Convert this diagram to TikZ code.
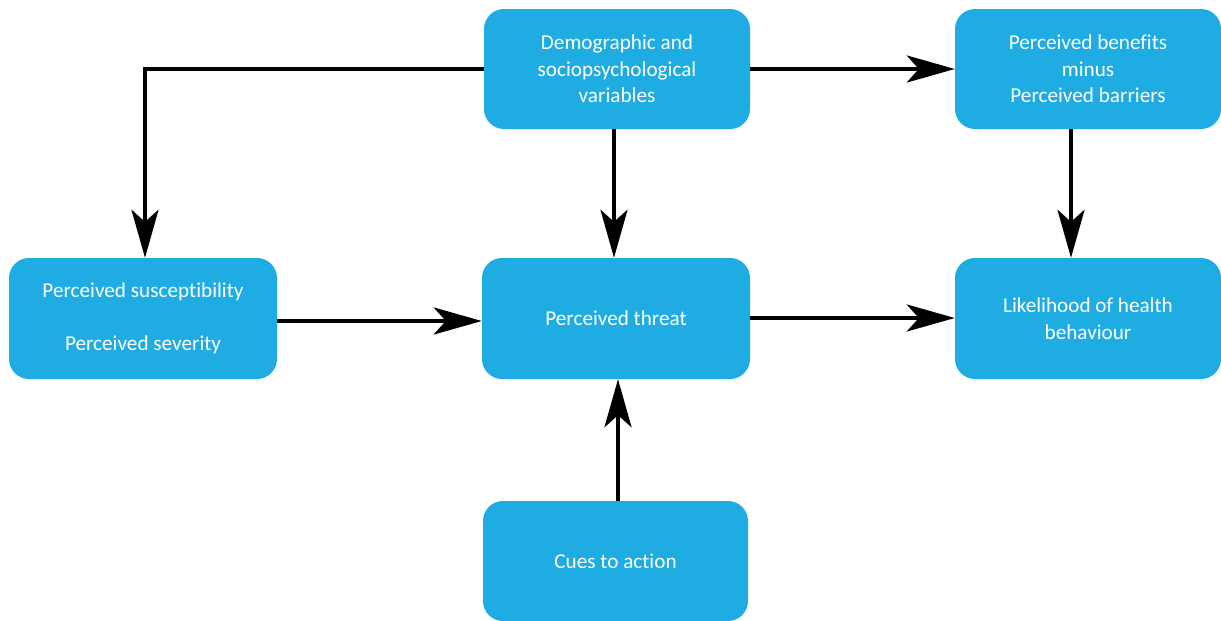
\documentclass[tikz,border=0pt]{standalone}
\usepackage{fontspec}
\setmainfont[Ligatures=NoCommon]{Carlito}
\usetikzlibrary{arrows.meta}
\definecolor{boxblue}{HTML}{1FACE3}
\begin{document}
\begin{tikzpicture}[x=1pt,y=-1pt,
  box/.style={fill=boxblue,draw=none,rounded corners=20pt,text=white,align=center,
    font=\fontsize{21.2}{26.5}\selectfont},
  conn/.style={line width=4pt,-{Stealth[length=48pt,width=27pt,inset=12pt]}}]
\useasboundingbox (0,0) rectangle (1221,621);
\node[box,minimum width=266pt,minimum height=120pt] (demo) at (617,69) {Demographic and\\sociopsychological\\variables};
\node[box,minimum width=266pt,minimum height=120pt] (ben) at (1088,69) {Perceived benefits\\minus\\Perceived barriers};
\node[box,minimum width=268pt,minimum height=121pt] (sus) at (143,318.5) {Perceived susceptibility\\[26pt]Perceived severity};
\node[box,minimum width=268pt,minimum height=121pt] (thr) at (616,318.5) {Perceived threat};
\node[box,minimum width=266pt,minimum height=121pt] (lik) at (1088,318.5) {Likelihood of health\\behaviour};
\node[box,minimum width=265pt,minimum height=120pt] (cue) at (615.5,561) {Cues to action};
\coordinate (corner) at (145,69);
\draw[conn] (demo.west) -- (corner) -- (corner |- sus.north);
\draw[conn] (demo.south -| 614,0) -- (614,0 |- thr.north);
\draw[conn] (demo.east) -- (ben.west);
\draw[conn] (ben.south -| 1071,0) -- (1071,0 |- lik.north);
\draw[conn] (sus.east |- 0,321) -- (thr.west |- 0,321);
\draw[conn] (thr.east |- 0,318) -- (lik.west |- 0,318);
\draw[conn] (cue.north -| 618,0) -- (618,0 |- thr.south);
\end{tikzpicture}
\end{document}
